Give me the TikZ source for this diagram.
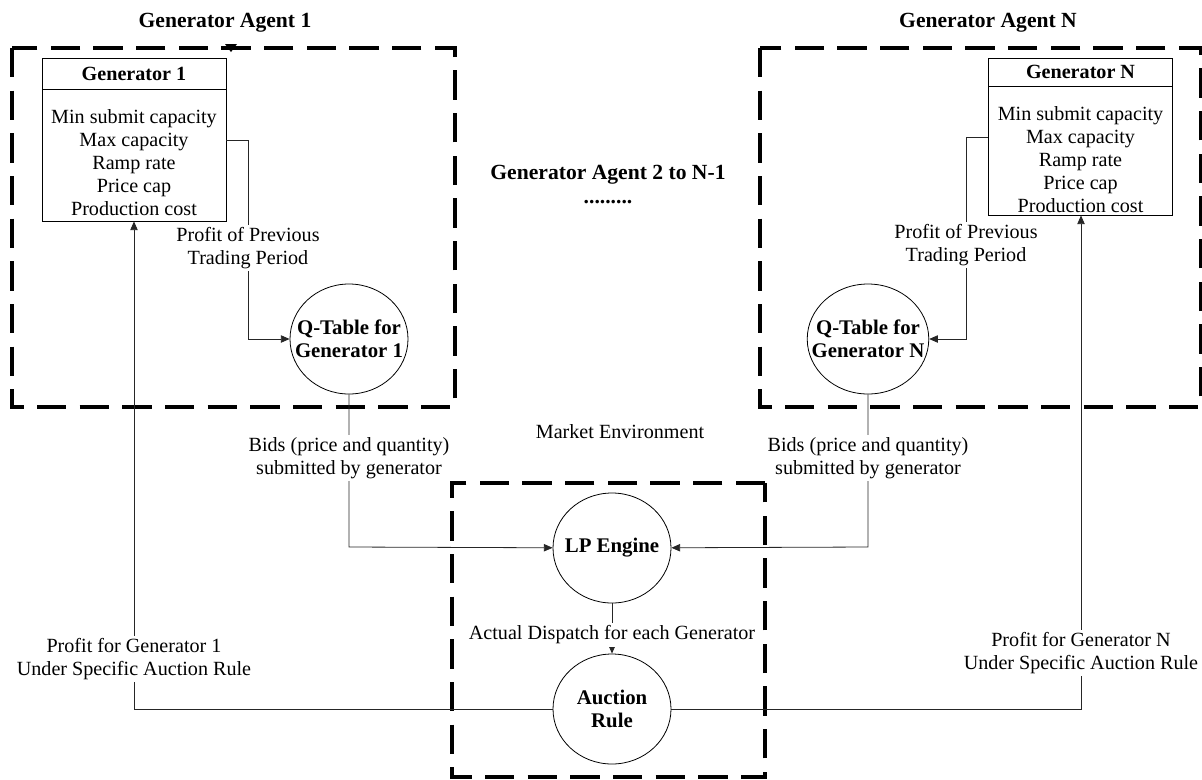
\documentclass[tikz,border=0pt]{standalone}
\usepackage{fontspec}
\setmainfont{Liberation Serif}
\usetikzlibrary{arrows.meta,shapes.geometric,calc}
\begin{document}
\begin{tikzpicture}[x=0.75pt,y=-0.75pt,
 agentbox/.style={draw, line width=2.4pt, dash pattern=on 22pt off 10pt},
 title/.style={font=\fontsize{16.2}{19}\selectfont\bfseries, inner sep=0pt},
 txt/.style={font=\fontsize{15.1}{17.25}\selectfont, align=center, inner sep=1pt},
 lbl/.style={txt, fill=white, inner sep=2pt},
 genhead/.style={draw, line width=0.6pt, minimum width=138pt, inner sep=0pt, font=\fontsize{15.1}{17}\selectfont\bfseries},
 genbody/.style={draw, line width=0.6pt, minimum width=138pt, inner sep=0pt},
 qcirc/.style={draw, ellipse, line width=0.6pt, minimum width=88.5pt, minimum height=82.5pt, inner sep=-10pt, align=center, font=\fontsize{15.6}{17.25}\selectfont\bfseries},
 conn/.style={line width=0.6pt, black!85},
 arr/.style={conn, -{Triangle[length=6.5pt,width=5.5pt]}},
]
\useasboundingbox (0,0) rectangle (1202,779);

% dashed agent / environment boxes
\draw[agentbox] (12,48) rectangle (455,407);
\draw[agentbox] (760,48) rectangle (1201,407);
\draw[agentbox] (765,483) -- (452,483) -- (452,777) -- (765,777) -- cycle;
\fill (225,44) -- (237,44) -- (231,52) -- cycle;

% titles
\node[title] (t1) at (225,23) {Generator Agent 1};
\node[title] (tN) at (988,23) {Generator Agent N};
\node[title] (tm) at (608,175) {Generator Agent 2 to N-1};
\node[title, anchor=base] (dots) at (608,203) {.........};
\node[txt] (env) at (620,432) {Market Environment};

% generator 1
\node[genhead, minimum height=23.25pt] (g1h) at (134,73.5) {Generator 1};
\node[genbody, minimum height=99pt] (g1b) at (134,155) {};
\node[txt] (g1t) at (134,162.5) {Min submit capacity\\Max capacity\\Ramp rate\\Price cap\\Production cost};

% generator N
\node[genhead, minimum height=21pt] (gNh) at (1080.5,72) {Generator N};
\node[genbody, minimum height=96.75pt] (gNb) at (1080.5,150.5) {};
\node[txt] (gNt) at (1080.5,159.5) {Min submit capacity\\Max capacity\\Ramp rate\\Price cap\\Production cost};

% circles
\node[qcirc] (q1) at (349,339) {Q-Table for\\Generator 1};
\node[qcirc] (qN) at (868,339) {Q-Table for\\Generator N};
\node[qcirc] (lp) at (612,548) {LP Engine};
\node[qcirc] (ar) at (612,709) {Auction\\Rule};

% coordinates
\coordinate (c1) at (248,140);
\coordinate (cN) at (966,137);
\coordinate (b1) at (349,547);
\coordinate (bN) at (868,547);
\coordinate (r1) at (134,709);
\coordinate (rN) at (1081,709);

% connectors
\draw[arr] (g1b.east |- c1) -- (c1) -- (c1 |- q1) -- (q1);
\draw[arr] (gNb.west |- cN) -- (cN) -- (cN |- qN) -- (qN);
\draw[arr] (q1) -- (b1) -- (lp);
\draw[arr] (qN) -- (bN) -- (lp);
\draw[arr] (lp) -- (ar);
\draw[arr] (ar) -- (r1) -- (r1 |- g1b.south);
\draw[arr] (ar) -- (rN) -- (rN |- gNb.south);

% labels
\node[lbl] (l1) at (248,248) {Profit of Previous\\Trading Period};
\node[lbl] (lN) at (966,245) {Profit of Previous\\Trading Period};
\node[lbl] (bid1) at (349,458) {Bids (price and quantity)\\submitted by generator};
\node[lbl] (bidN) at (868,458) {Bids (price and quantity)\\submitted by generator};
\node[lbl] (disp) at (612,635) {Actual Dispatch for each Generator};
\node[lbl] (p1) at (134,659) {Profit for Generator 1\\Under Specific Auction Rule};
\node[lbl] (pN) at (1081,653) {Profit for Generator N\\Under Specific Auction Rule};
\end{tikzpicture}
\end{document}
